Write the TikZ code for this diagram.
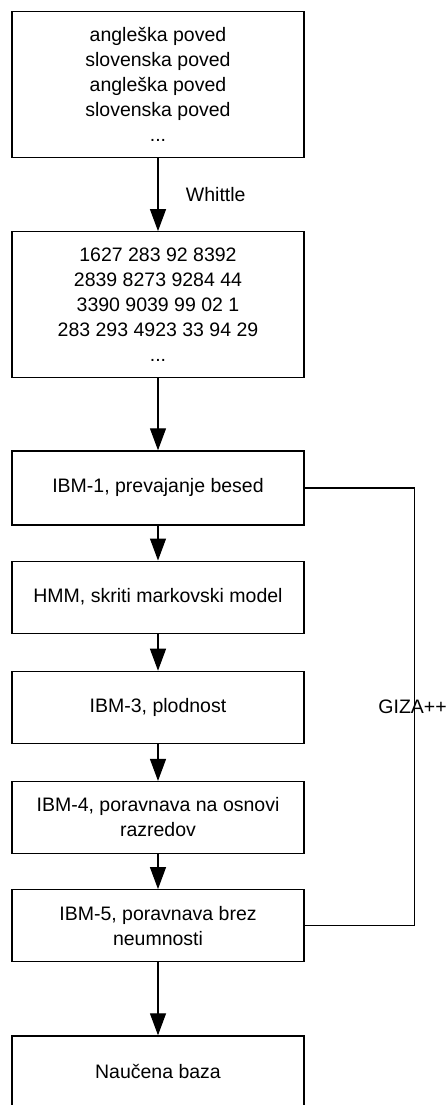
\documentclass[tikz,border=0pt]{standalone}
\usepackage{fontspec}
\setmainfont{Liberation Sans}
\usepackage{tikz}
\usetikzlibrary{positioning, arrows.meta}
\tikzset{
	>={Triangle[length=22pt, width=16pt]}, % big filled arrow heads
	korak/.style={draw, minimum width=292pt, minimum height=72pt, align=center}, % one step of the training
	velik/.style={korak, minimum height=146pt}, % the taller boxes holding the corpus
}

\begin{document}
\begin{tikzpicture}[line width=1.2pt, font=\fontsize{19.5}{25}\selectfont]
		\clip (0,0) rectangle (446pt,-1105pt);

		\node[velik] (k1) at (158pt,-84.5pt) {angleška poved\\slovenska poved\\angleška poved\\slovenska poved\\...};
		\node[velik, below=73pt of k1] (k2) {1627 283 92 8392\\2839 8273 9284 44\\3390 9039 99 02 1\\283 293 4923 33 94 29\\...};
		\node[korak, minimum height=74pt, below=72pt of k2] (k3) {IBM-1, prevajanje besed};
		\node[korak, below=35pt of k3] (k4) {HMM, skriti markovski model};
		\node[korak, below=37pt of k4] (k5) {IBM-3, plodnost};
		\node[korak, below=37pt of k5] (k6) {IBM-4, poravnava na osnovi\\razredov};
		\node[korak, below=35pt of k6] (k7) {IBM-5, poravnava brez\\neumnosti};
		\node[korak, below=73pt of k7] (k8) {Naučena baza};

		\draw[->] (k1) -- node[right=24pt]{Whittle} (k2);

		\foreach \x in {2,...,7}
		{
			\pgfmathtruncatemacro{\next}{\x + 1}
			\draw[->] (k\x) -- (k\next);
		}

		% the GIZA++ loop on the right
		\draw (k3.east) -- ++(110pt,0) |- node[pos=0.25, xshift=-2pt]{GIZA++} (k7.east);

	\end{tikzpicture}
\end{document}
